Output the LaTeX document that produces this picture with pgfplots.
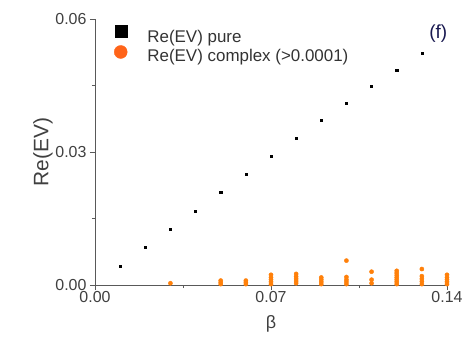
\documentclass[border=0pt]{standalone}
\usepackage{pgfplots}
\pgfplotsset{compat=1.18}
\usepackage{fontspec}
\setmainfont{Liberation Sans}
\usetikzlibrary{calc}
\definecolor{org}{RGB}{255,128,10}
\definecolor{orgleg}{RGB}{255,100,25}
\definecolor{navy}{RGB}{25,25,80}
\begin{document}
\begin{tikzpicture}
\begin{axis}[
  name=ax,
  scale only axis,
  width=352bp, height=266bp,
  xmin=0, xmax=0.14, ymin=0, ymax=0.06,
  axis lines=left,
  axis line style={-, gray!70!black, line width=0.6bp},
  tick style={gray!70!black, line width=0.6bp},
  tick align=outside,
  major tick length=5bp, minor tick length=3bp,
  xtick={0,0.07,0.14}, ytick={0,0.03,0.06},
  minor tick num=1,
  scaled ticks=false,
  /pgf/number format/.cd, fixed, fixed zerofill, precision=2, assume math mode=true,
  /pgfplots/.cd,
  tick label style={font=\fontsize{16}{19}\selectfont, text=black!75},
  xticklabel style={yshift=2bp},
  xlabel={β}, ylabel={Re(EV)},
  xlabel style={font=\fontsize{18}{22}\selectfont, text=black!75, yshift=-6bp},
  ylabel style={font=\fontsize{21}{24}\selectfont, text=black!75, yshift=-4bp},
  clip=false,
  legend cell align=left,
  legend style={draw=none, fill=none, at={(rel axis cs:0.045,0.985)}, anchor=north west,
    font=\fontsize{17}{20}\selectfont, text=black!80, row sep=-1bp,
    /tikz/every odd column/.append style={column sep=18bp}},
]
\addplot[only marks, mark=square*, mark size=1.1bp, black,
  legend image code/.code={\fill[black] (0.3cm-6bp,0bp) rectangle (0.3cm+6bp,12bp);}]
  coordinates {
  (0.01,0.0042) (0.02,0.0086) (0.03,0.0126) (0.04,0.0167) (0.05,0.0210)
  (0.06,0.0250) (0.07,0.0291) (0.08,0.0332) (0.09,0.0372) (0.10,0.0410)
  (0.11,0.0449) (0.12,0.0485) (0.13,0.0523)
  };
\addlegendentry{Re(EV) pure}
\addplot[only marks, mark=*, mark size=2.1bp, org, mark options={draw=none, fill=org},
  legend image code/.code={\fill[orgleg] (0.3cm,4bp) circle (6.5bp);}]
  coordinates {
  (0.03,0.0004)
  (0.05,0.0002) (0.05,0.0006) (0.05,0.0010)
  (0.06,0.0002) (0.06,0.0006) (0.06,0.0010)
  (0.07,0.0002) (0.07,0.0007) (0.07,0.0012) (0.07,0.0017) (0.07,0.0023)
  (0.08,0.0004) (0.08,0.0009) (0.08,0.0014) (0.08,0.0019) (0.08,0.0025)
  (0.09,0.0002) (0.09,0.0007) (0.09,0.0012) (0.09,0.0017)
  (0.10,0.0002) (0.10,0.0007) (0.10,0.0012) (0.10,0.0018) (0.10,0.0055)
  (0.11,0.0004) (0.11,0.0012) (0.11,0.0030)
  (0.12,0.0002) (0.12,0.0007) (0.12,0.0012) (0.12,0.0017) (0.12,0.0022) (0.12,0.0027) (0.12,0.0032)
  (0.13,0.0002) (0.13,0.0008) (0.13,0.0014) (0.13,0.0020) (0.13,0.0036)
  (0.14,0.0002) (0.14,0.0007) (0.14,0.0012) (0.14,0.0017) (0.14,0.0023)
  };
\addlegendentry{Re(EV) complex (>0.0001)}
\node[font=\fontsize{19}{22}\selectfont, text=navy] at (axis cs:0.1365,0.0568) {(f)};
\end{axis}
\pgfresetboundingbox
\path[use as bounding box] ($(ax.south west)+(-95bp,-63bp)$) rectangle ($(ax.north east)+(23bp,19bp)$);
\end{tikzpicture}
\end{document}
